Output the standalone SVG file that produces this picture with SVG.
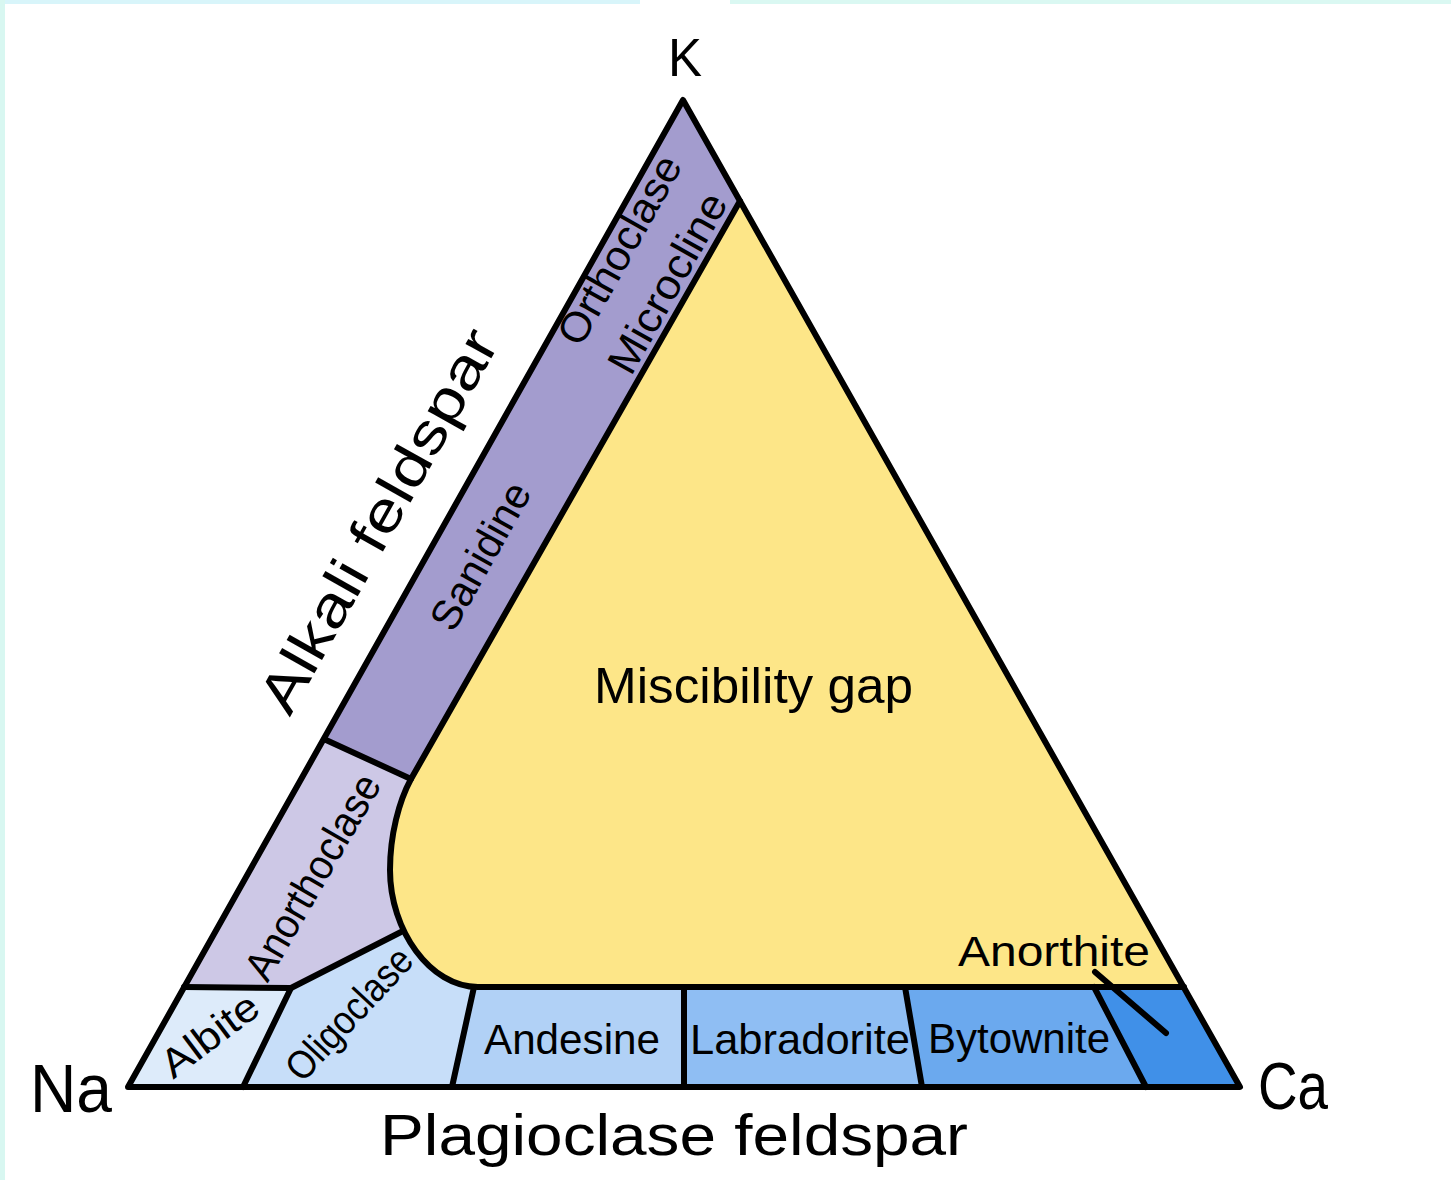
<svg xmlns="http://www.w3.org/2000/svg" width="1451" height="1180" viewBox="0 0 1451 1180">
<style>
.t{font-family:"Liberation Sans","DejaVu Sans",sans-serif;fill:#000}
.ln{fill:none;stroke:#000;stroke-width:6;stroke-linejoin:round;stroke-linecap:round}
</style>
<rect x="0" y="0" width="1451" height="1180" fill="#fff"/>
<rect x="0" y="0" width="640" height="4" fill="#D8F5FA"/>
<rect x="730" y="0" width="721" height="4" fill="#DAF8F2"/>
<rect x="0" y="0" width="5" height="1180" fill="#D8F7F1"/>

<g id="anorthoclase">
<polygon points="326,740 411,779 440,850 430,940 291,988 184,987" fill="#CDC8E6"/>
<text class="t" font-size="42" text-anchor="middle" textLength="230" lengthAdjust="spacingAndGlyphs" transform="translate(325,884) rotate(-60)">Anorthoclase</text>
</g>
<g id="alkali-band">
<polygon points="683,100 740,201 411,779 326,740" fill="#A39CCE"/>
<text class="t" font-size="42" text-anchor="middle" textLength="162" lengthAdjust="spacingAndGlyphs" transform="translate(493,563) rotate(-60.7)">Sanidine</text>
<text class="t" font-size="42" text-anchor="middle" textLength="210" lengthAdjust="spacingAndGlyphs" transform="translate(632,257) rotate(-60.7)">Orthoclase</text>
<text class="t" font-size="42" text-anchor="middle" textLength="200" lengthAdjust="spacingAndGlyphs" transform="translate(680,290) rotate(-60.7)">Microcline</text>
</g>
<g id="albite">
<polygon points="184,987 291,988 243,1087 128,1087" fill="#DDEBFA"/>
<text class="t" font-size="40" text-anchor="middle" textLength="112" lengthAdjust="spacingAndGlyphs" transform="translate(218,1046) rotate(-37)">Albite</text>
</g>
<g id="oligoclase">
<polygon points="291,988 401,932 480,920 474,987 452,1087 243,1087" fill="#C7DEF9"/>
<text class="t" font-size="40" text-anchor="middle" textLength="166" lengthAdjust="spacingAndGlyphs" transform="translate(359,1023) rotate(-47)">Oligoclase</text>
</g>
<g id="andesine">
<polygon points="474,987 684,987 684,1087 452,1087" fill="#B1D1F6"/>
<text class="t" x="484" y="1054" font-size="43" textLength="176" lengthAdjust="spacingAndGlyphs">Andesine</text>
</g>
<g id="labradorite">
<polygon points="684,987 905,987 922,1087 684,1087" fill="#8FBEF3"/>
<text class="t" x="690" y="1054" font-size="43" textLength="220" lengthAdjust="spacingAndGlyphs">Labradorite</text>
</g>
<g id="bytownite">
<polygon points="905,987 1094,987 1146,1087 922,1087" fill="#6BA9EE"/>
<text class="t" x="928" y="1053" font-size="43" textLength="182" lengthAdjust="spacingAndGlyphs">Bytownite</text>
</g>
<g id="anorthite">
<polygon points="1094,987 1184,987 1240,1087 1146,1087" fill="#4090E8"/>
</g>
<g id="miscibility-gap">
<path d="M740,201 L1184,987 L478,987 C430,987 390,930 390,870 C390,835 399,801 411,779 Z" fill="#FDE688"/>
<text class="t" x="594" y="703" font-size="50" textLength="319" lengthAdjust="spacingAndGlyphs">Miscibility gap</text>
<text class="t" x="958" y="966" font-size="42" textLength="192" lengthAdjust="spacingAndGlyphs">Anorthite</text>
</g>

<g id="connectors">
<path class="ln" d="M740,201 L411,779 C399,801 390,835 390,870 C390,930 430,987 478,987 L1184,987"/>
<line class="ln" x1="184" y1="987" x2="291" y2="988"/>
<line class="ln" x1="326" y1="740" x2="411" y2="779"/>
<polyline class="ln" points="401,932 291,988 243,1087"/>
<line class="ln" x1="474" y1="987" x2="452" y2="1087"/>
<line class="ln" x1="684" y1="987" x2="684" y2="1087"/>
<line class="ln" x1="905" y1="987" x2="922" y2="1087"/>
<line class="ln" x1="1094" y1="987" x2="1146" y2="1087"/>
<line class="ln" x1="1095" y1="972" x2="1166" y2="1033" stroke-width="5"/>
<polygon class="ln" points="683,100 1240,1087 128,1087" stroke-width="7"/>
</g>

<g id="labels">
<text class="t" x="685" y="76" font-size="53" text-anchor="middle" textLength="34" lengthAdjust="spacingAndGlyphs">K</text>
<text class="t" x="30" y="1112" font-size="68" textLength="82" lengthAdjust="spacingAndGlyphs">Na</text>
<text class="t" x="1258" y="1109" font-size="66" textLength="70" lengthAdjust="spacingAndGlyphs">Ca</text>
<text class="t" x="380" y="1155" font-size="58" textLength="588" lengthAdjust="spacingAndGlyphs">Plagioclase feldspar</text>
<text class="t" font-size="56" text-anchor="middle" textLength="430" lengthAdjust="spacingAndGlyphs" transform="translate(395,530) rotate(-60.7)">Alkali feldspar</text>
</g>
</svg>
